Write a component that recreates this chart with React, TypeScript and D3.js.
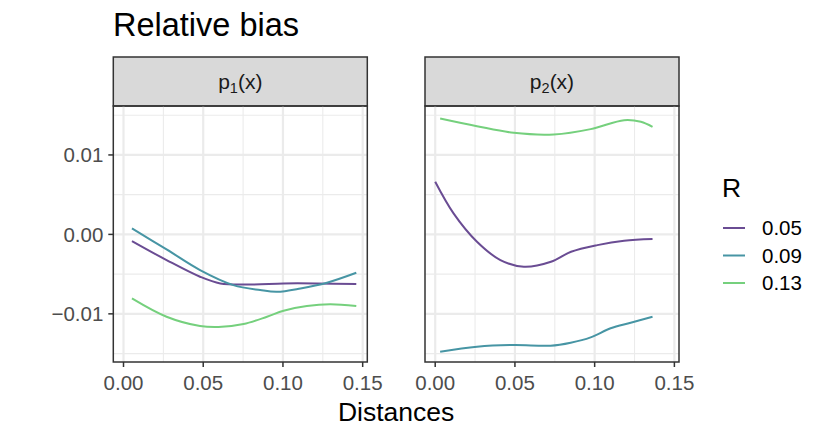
import * as d3 from "d3";
import React from "react";

// values
const panels = ["1", "2"];
const radii = ["0.05", "0.09", "0.13"];
const colors = ["#6a4c93", "#4795a4", "#75d07d"];

const p1Dist05 = [0.0053, 0.027, 0.048, 0.0607, 0.0795, 0.1004, 0.121, 0.146];
const p1Bias05 = [-0.00084, -0.00323, -0.00533, -0.00617, -0.0063, -0.00617, -0.00617, -0.00625];
const p1Dist09 = [0.0053, 0.027, 0.048, 0.0689, 0.0857, 0.0962, 0.111, 0.1276, 0.146];
const p1Bias09 = [0.00075, -0.00189, -0.00449, -0.00638, -0.007, -0.00722, -0.0068, -0.00608, -0.00483];
const p1Dist13 = [0.0053, 0.027, 0.048, 0.0596, 0.0753, 0.09, 0.1004, 0.115, 0.1296, 0.146];
const p1Bias13 = [-0.00805, -0.01036, -0.01153, -0.01166, -0.01128, -0.01036, -0.0096, -0.00902, -0.0088, -0.00902];

const p2Dist05 = [0.0, 0.0115, 0.0262, 0.0409, 0.0556, 0.0726, 0.0852, 0.1017, 0.1185, 0.1363];
const p2Bias05 = [0.00662, 0.00264, -0.00093, -0.00323, -0.00408, -0.00345, -0.00219, -0.00135, -0.0008, -0.00059];
const p2Dist09 = [0.0031, 0.0262, 0.0493, 0.0723, 0.085, 0.0975, 0.11, 0.1226, 0.1363];
const p2Bias09 = [-0.01477, -0.01414, -0.01392, -0.01401, -0.01363, -0.01296, -0.01182, -0.01112, -0.01036];
const p2Dist13 = [0.0031, 0.0262, 0.0493, 0.0744, 0.0975, 0.1185, 0.129, 0.1363];
const p2Bias13 = [0.01459, 0.01362, 0.01278, 0.01258, 0.01325, 0.01438, 0.01417, 0.01353];

const xTicks = [0, 0.05, 0.1, 0.15];
const xMinor = [0.025, 0.075, 0.125];
const yTicks = [-0.01, 0, 0.01];
const yMinor = [-0.015, -0.005, 0.005, 0.015];

const series = [
  [
    { d: p1Dist05, b: p1Bias05 },
    { d: p1Dist09, b: p1Bias09 },
    { d: p1Dist13, b: p1Bias13 },
  ],
  [
    { d: p2Dist05, b: p2Bias05 },
    { d: p2Dist09, b: p2Bias09 },
    { d: p2Dist13, b: p2Bias13 },
  ],
];

const width = 830;
const height = 442;
const font = "'Liberation Sans', Arial, Helvetica, sans-serif";
const panelTop = 106;
const panelBottom = 362;
const stripTop = 57;
const panelX = [113.3, 425];
const panelW = 254;

const fmt = (v: number) => (v < 0 ? "\u2212" : "") + d3.format(".2f")(Math.abs(v));

export default function App() {
  const y = d3.scaleLinear().domain([-0.01606, 0.01616]).range([panelBottom, panelTop]);

  return (
    <svg width={width} height={height} style={{ display: "block", position: "absolute", left: 0, top: 0 }} fontFamily={font}>
      <rect width={width} height={height} fill="#fff" />
      <text x={113} y={36} fontSize={32.5} fill="#000">Relative bias</text>

      {panels.map((p, pi) => {
        const x0 = panelX[pi];
        const x = d3.scaleLinear().domain([-0.0064, 0.1529]).range([x0, x0 + panelW]);
        return (
          <g key={p}>
            {/* strip */}
            <rect x={x0} y={stripTop} width={panelW} height={panelTop - stripTop} fill="#d9d9d9" stroke="#333" strokeWidth={1.5} />
            <text x={x0 + panelW / 2} y={89} fontSize={21} fill="#1a1a1a" textAnchor="middle">
              p<tspan fontSize={14.5} dy={4}>{p}</tspan><tspan dy={-4}>(x)</tspan>
            </text>

            {/* grid */}
            {xMinor.map((t) => (
              <line key={"xm" + t} x1={x(t)} x2={x(t)} y1={panelTop} y2={panelBottom} stroke="#ebebeb" strokeWidth={1.1} />
            ))}
            {yMinor.map((t) => (
              <line key={"ym" + t} x1={x0} x2={x0 + panelW} y1={y(t)} y2={y(t)} stroke="#ebebeb" strokeWidth={1.1} />
            ))}
            {xTicks.map((t) => (
              <line key={"xg" + t} x1={x(t)} x2={x(t)} y1={panelTop} y2={panelBottom} stroke="#ebebeb" strokeWidth={2.2} />
            ))}
            {yTicks.map((t) => (
              <line key={"yg" + t} x1={x0} x2={x0 + panelW} y1={y(t)} y2={y(t)} stroke="#ebebeb" strokeWidth={2.2} />
            ))}

            {/* smoothed lines */}
            {series[pi].map((s, si) => {
              const gen = d3
                .line<number>()
                .x((_, i) => x(s.d[i]))
                .y((v) => y(v))
                .curve(d3.curveCatmullRom.alpha(0.5));
              return <path key={si} d={gen(s.b) || ""} fill="none" stroke={colors[si]} strokeWidth={2} />;
            })}

            <rect x={x0} y={panelTop} width={panelW} height={panelBottom - panelTop} fill="none" stroke="#333" strokeWidth={1.5} />

            {/* x axis */}
            {xTicks.map((t) => (
              <g key={"xt" + t}>
                <line x1={x(t)} x2={x(t)} y1={panelBottom} y2={panelBottom + 5} stroke="#333" strokeWidth={1.5} />
                <text x={x(t)} y={390} fontSize={20.5} fill="#4d4d4d" textAnchor="middle">{d3.format(".2f")(t)}</text>
              </g>
            ))}

            {/* y axis only on first panel */}
            {pi === 0 &&
              yTicks.map((t) => (
                <g key={"yt" + t}>
                  <line x1={x0 - 5} x2={x0} y1={y(t)} y2={y(t)} stroke="#333" strokeWidth={1.5} />
                  <text x={x0 - 10} y={y(t) + 7.3} fontSize={20.5} fill="#4d4d4d" textAnchor="end">{fmt(t)}</text>
                </g>
              ))}
          </g>
        );
      })}

      <text x={(panelX[0] + panelX[1] + panelW) / 2} y={421} fontSize={26.5} fill="#000" textAnchor="middle">Distances</text>

      {/* legend */}
      <text x={722} y={197} fontSize={26.5} fill="#000">R</text>
      {radii.map((r, i) => {
        const ly = 228 + i * 27.5;
        return (
          <g key={r}>
            <line x1={723} x2={745} y1={ly} y2={ly} stroke={colors[i]} strokeWidth={2} />
            <text x={762} y={ly + 7.3} fontSize={20.5} fill="#000">{r}</text>
          </g>
        );
      })}
    </svg>
  );
}
